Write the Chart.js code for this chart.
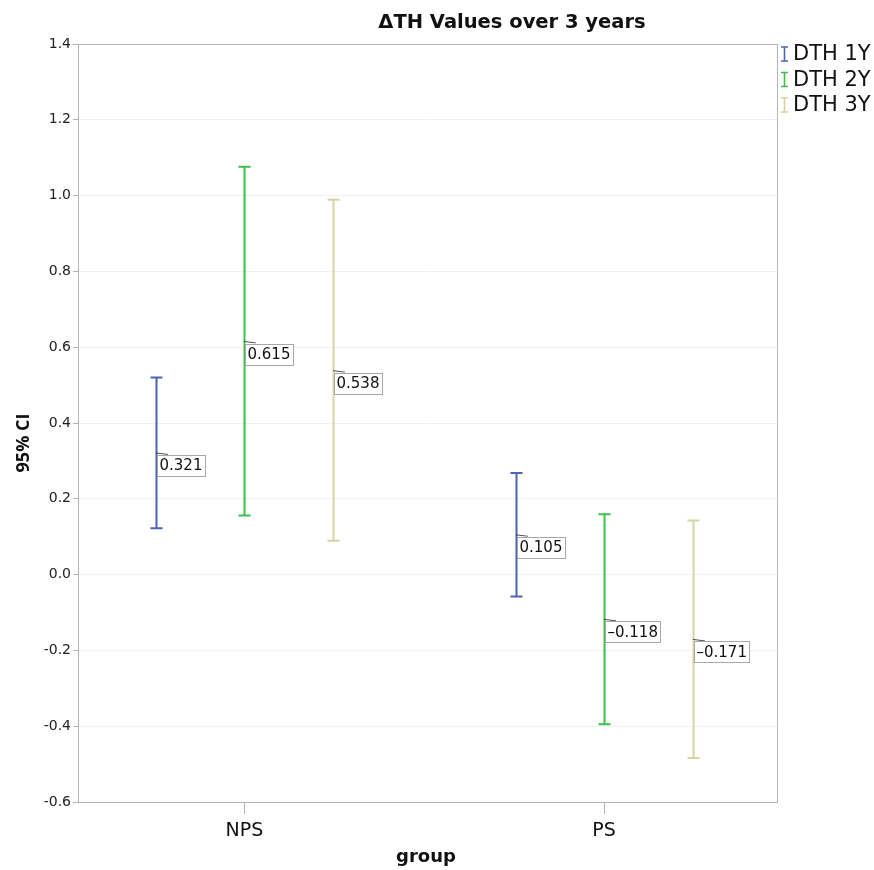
<!DOCTYPE html>
<html>
<head>
<meta charset="utf-8">
<script src="https://cdn.jsdelivr.net/npm/chart.js@4"></script>
<style>
html,body{margin:0;padding:0;background:#fff;}
#wrap{width:874px;height:870px;position:relative;}
</style>
</head>
<body>
<div id="wrap"><canvas id="c" width="874" height="870"></canvas></div>
<script>
const categories = ['NPS', 'PS'];
const seriesNames = ['DTH 1Y', 'DTH 2Y', 'DTH 3Y'];
const means1Y = [0.321, 0.105];
const means2Y = [0.615, -0.118];
const means3Y = [0.538, -0.171];
const lower1Y = [0.122, -0.058];
const lower2Y = [0.156, -0.395];
const lower3Y = [0.089, -0.484];
const upper1Y = [0.520, 0.268];
const upper2Y = [1.076, 0.159];
const upper3Y = [0.989, 0.143];
const yTicks = [-0.6, -0.4, -0.2, 0.0, 0.2, 0.4, 0.6, 0.8, 1.0, 1.2, 1.4];
const colors = ['#4a63b8', '#3dbf4c', '#d8d4a0'];
const title = 'ΔTH Values over 3 years';

const means = [means1Y, means2Y, means3Y];
const lowers = [lower1Y, lower2Y, lower3Y];
const uppers = [upper1Y, upper2Y, upper3Y];
const offsets = [-0.246, 0, 0.246];

const datasets = seriesNames.map((name, s) => ({
  label: name,
  data: categories.map((c, i) => ({x: i + offsets[s], y: means[s][i], lo: lowers[s][i], hi: uppers[s][i]})),
  borderColor: colors[s],
  backgroundColor: colors[s],
  pointRadius: 0,
  showLine: false
}));

const FONT = '"DejaVu Sans", sans-serif';

const errorBars = {
  id: 'errorBars',
  afterDatasetsDraw(chart) {
    const ctx = chart.ctx;
    const xs = chart.scales.x, ys = chart.scales.y;
    const a = chart.chartArea;
    ctx.save();
    // frame
    ctx.strokeStyle = '#b4b4b4';
    ctx.lineWidth = 1;
    ctx.strokeRect(Math.round(a.left) + 0.5, Math.round(a.top) + 0.5, Math.round(a.right - a.left), Math.round(a.bottom - a.top));
    chart.data.datasets.forEach((ds) => {
      ds.data.forEach((p) => {
        const x = Math.round(xs.getPixelForValue(p.x)) + 0.5;
        const yl = ys.getPixelForValue(p.lo), yh = ys.getPixelForValue(p.hi);
        ctx.strokeStyle = ds.borderColor;
        ctx.lineWidth = 2;
        ctx.beginPath();
        ctx.moveTo(x, yh); ctx.lineTo(x, yl);
        ctx.moveTo(x - 6, yh); ctx.lineTo(x + 6, yh);
        ctx.moveTo(x - 6, yl); ctx.lineTo(x + 6, yl);
        ctx.stroke();
      });
    });
    // value labels
    chart.data.datasets.forEach((ds) => {
      ds.data.forEach((p) => {
        const x = Math.round(xs.getPixelForValue(p.x));
        const y = ys.getPixelForValue(p.y);
        ctx.strokeStyle = '#222';
        ctx.lineWidth = 0.8;
        ctx.beginPath();
        ctx.moveTo(x, y); ctx.lineTo(x + 12, y + 1.5);
        ctx.stroke();
        const txt = p.y.toFixed(3).replace('-', '–');
        ctx.font = '15px "DejaVu Sans", sans-serif';
        const w = ctx.measureText(txt).width + 5;
        const bx = x + 1, by = y + 2, bh = 21;
        ctx.fillStyle = '#fff';
        ctx.fillRect(bx, by, w, bh);
        ctx.strokeStyle = '#a8a8a8';
        ctx.lineWidth = 1;
        ctx.strokeRect(Math.round(bx) + 0.5, Math.round(by) + 0.5, Math.round(w), bh);
        ctx.fillStyle = '#111';
        ctx.textAlign = 'left';
        ctx.textBaseline = 'middle';
        ctx.fillText(txt, bx + 2.5, by + bh / 2 + 1);
      });
    });
    // title
    ctx.fillStyle = '#111';
    ctx.font = 'bold 19.5px ' + FONT;
    ctx.textAlign = 'center';
    ctx.textBaseline = 'middle';
    ctx.fillText(title, 512, 23);
    // axis titles
    ctx.font = 'bold 18px ' + FONT;
    ctx.fillText('group', 426, 857);
    ctx.save();
    ctx.translate(24, 443);
    ctx.rotate(-Math.PI / 2);
    ctx.font = 'bold 18px "Open Sans", sans-serif';
    ctx.fillText('95% CI', 0, 0);
    ctx.restore();
    // legend
    ctx.font = '21px ' + FONT;
    ctx.textAlign = 'left';
    seriesNames.forEach((n, s) => {
      const cy = 54 + s * 25.5;
      const ix = 784.5;
      ctx.strokeStyle = colors[s];
      ctx.lineWidth = 1.6;
      ctx.beginPath();
      ctx.moveTo(ix, cy - 7); ctx.lineTo(ix, cy + 7);
      ctx.moveTo(ix - 3.5, cy - 7); ctx.lineTo(ix + 3.5, cy - 7);
      ctx.moveTo(ix - 3.5, cy + 7); ctx.lineTo(ix + 3.5, cy + 7);
      ctx.stroke();
      ctx.fillStyle = '#111';
      ctx.fillText(n, 793, cy + 1);
    });
    ctx.restore();
  }
};

new Chart(document.getElementById('c'), {
  type: 'scatter',
  data: {datasets},
  options: {
    responsive: false,
    animation: false,
    devicePixelRatio: 1,
    layout: {padding: {top: 44, right: 97, left: 0, bottom: 0}},
    plugins: {legend: {display: false}, title: {display: false}, tooltip: {enabled: false}},
    scales: {
      x: {
        type: 'linear',
        min: -0.463,
        max: 1.481,
        afterBuildTicks: (sc) => { sc.ticks = categories.map((c, i) => ({value: i})); },
        afterFit: (sc) => { sc.height = 68; },
        ticks: {
          callback: (v) => categories[v],
          font: {size: 19, family: FONT},
          color: '#111',
          padding: 6
        },
        grid: {drawOnChartArea: false, tickLength: 12, tickColor: '#b4b4b4'},
        border: {display: false}
      },
      y: {
        min: -0.6,
        max: 1.4,
        afterBuildTicks: (sc) => { sc.ticks = yTicks.map(v => ({value: v})); },
        afterFit: (sc) => { sc.width = 78; },
        ticks: {
          callback: (v) => Number(v).toFixed(1),
          font: {size: 14, family: FONT},
          color: '#222',
          padding: 2
        },
        grid: {color: '#f1f1f1', tickColor: '#b4b4b4', tickLength: 5},
        border: {display: false}
      }
    }
  },
  plugins: [errorBars]
});
</script>
</body>
</html>
